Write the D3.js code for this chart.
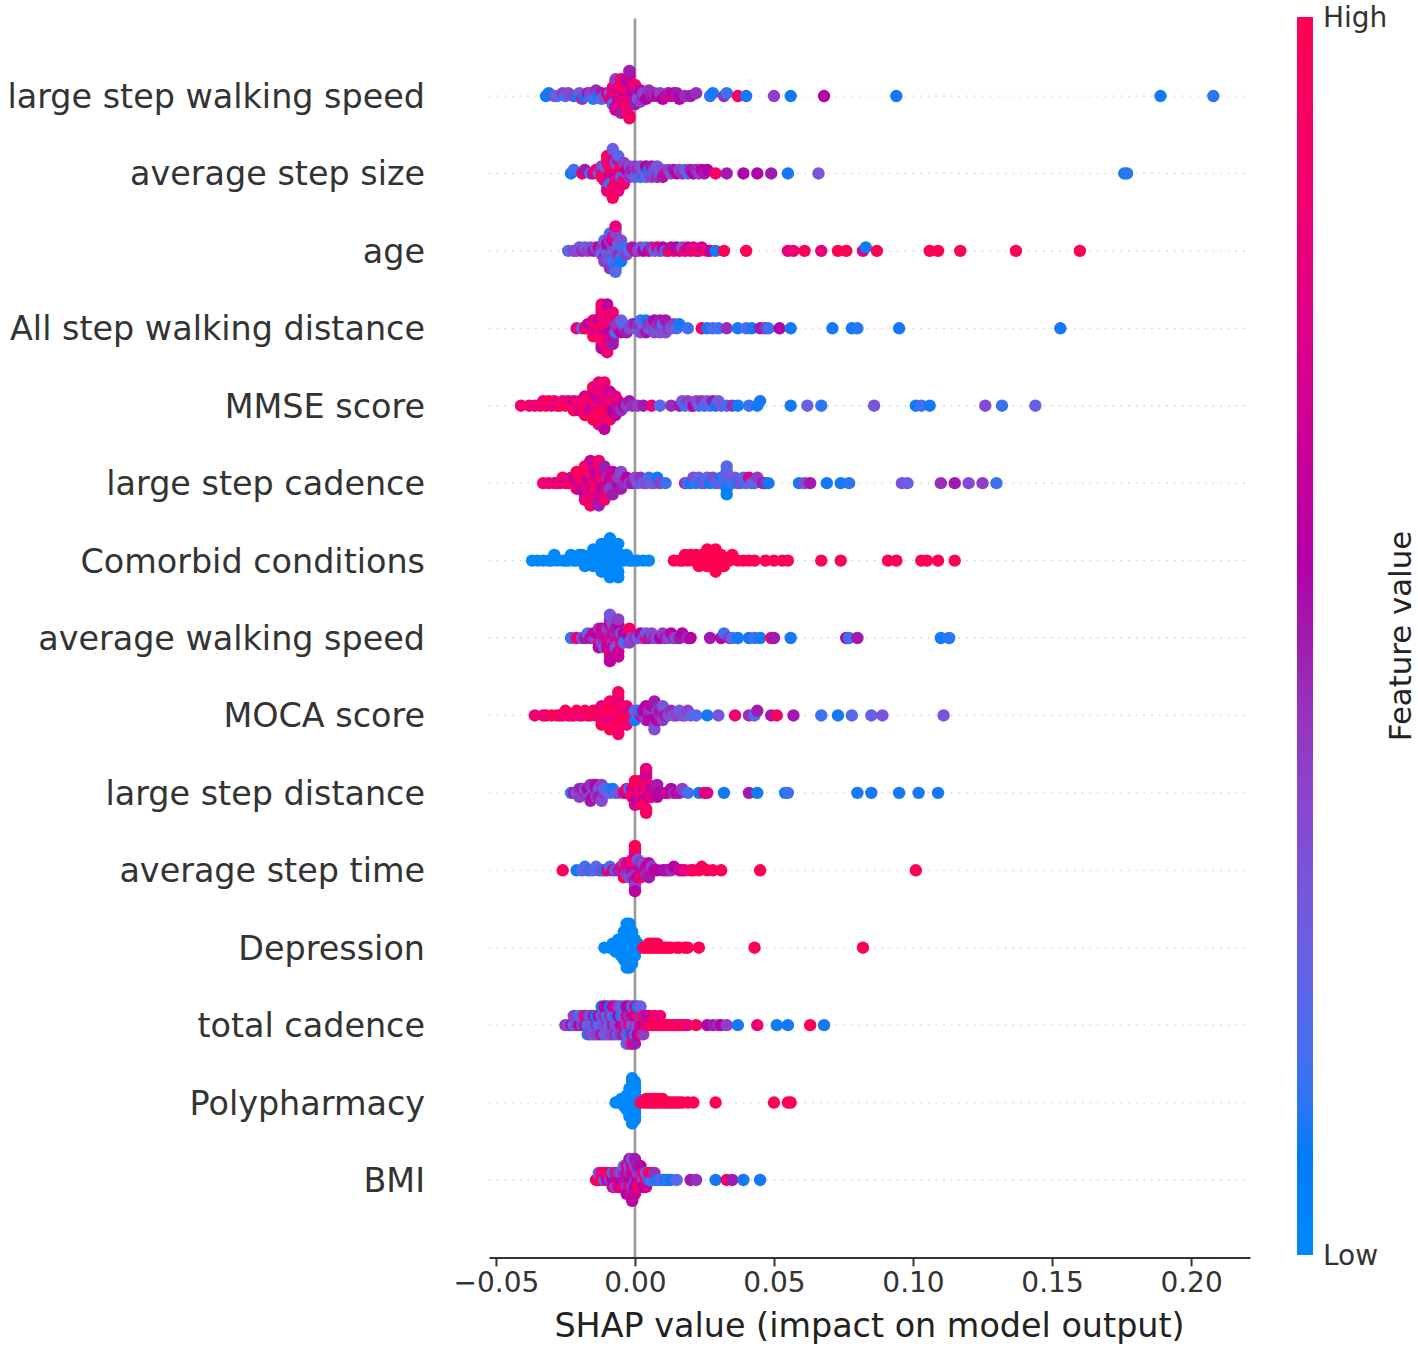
<!DOCTYPE html>
<html>
<head>
<meta charset="utf-8">
<script src="https://cdn.jsdelivr.net/npm/d3@7"></script>
<style>
  body { margin: 0; background: #fff; }
  svg { display: block; font-family: "DejaVu Sans", sans-serif; }
</style>
</head>
<body>
<svg id="chart" width="1418" height="1352"></svg>
<script>
// feature rows, top to bottom
var featureNames = ["large step walking speed", "average step size", "age", "All step walking distance",
  "MMSE score", "large step cadence", "Comorbid conditions", "average walking speed", "MOCA score",
  "large step distance", "average step time", "Depression", "total cadence", "Polypharmacy", "BMI"];

var xTicks = [-0.05, 0, 0.05, 0.10, 0.15, 0.20];
var xDomain = [-0.0525, 0.2212];

// each point: [SHAP value, feature value 0 (low) .. 1 (high)]
var largeStepWalkingSpeed = [
[-.032,.05],[-.031,.1],[-.029,.35],[-.028,.2],[-.026,.4],[-.025,.15],[-.024,.35],[-.022,.4],[-.021,.1],[-.020,.3],[-.019,.45],[-.018,.1],[-.017,.5],[-.016,.2],[-.016,.4],[-.015,.15],[-.014,.45],[-.013,.1],[-.012,.5],[-.012,.2],[-.011,.35],[-.010,.6],
[-.009,.7],[-.009,.3],[-.009,.8],[-.008,.9],[-.008,.5],[-.008,.75],[-.008,.2],[-.007,.85],[-.007,.6],[-.007,1],[-.007,.7],[-.007,.4],
[-.006,.9],[-.006,.8],[-.006,.55],[-.006,.95],[-.006,.7],[-.006,.65],[-.005,.8],[-.005,1],[-.005,.6],[-.005,.9],[-.005,.75],[-.005,.85],[-.005,.5],
[-.004,.95],[-.004,.7],[-.004,.8],[-.004,.6],[-.004,.9],[-.004,1],[-.004,.75],[-.003,.85],[-.003,.9],[-.003,.7],[-.003,1],[-.003,.55],[-.003,.8],
[-.002,.75],[-.002,.85],[-.002,.65],[-.002,.9],[-.002,.5],[-.001,.7],[-.001,.6],[-.001,.8],[-.001,.55],[0,.6],[0,.75],[0,.5],[0,.85],
[.001,.65],[.001,.5],[.001,.3],[.002,.6],[.002,.4],[.003,.5],[.003,.35],[.004,.55],[.005,.45],
[.006,.5],[.007,.45],[.008,.6],[.009,.4],[.010,.55],[.011,.7],[.012,.5],[.013,.65],[.014,.6],[.015,.75],[.015,.5],[.016,.55],[.018,.45],[.020,.5],[.022,.45],
[.027,.15],[.028,.1],[.032,.45],[.033,.15],[.037,.9],[.040,.1],[.050,.4],[.056,.1],[.068,.55],[.094,.1],[.189,.1],[.208,.12]
];

var averageStepSize = [
[-.023,.1],[-.022,.15],[-.019,.85],[-.018,.5],[-.016,.2],[-.015,.7],[-.014,.9],[-.013,.3],
[-.012,.8],[-.012,.95],[-.012,.4],[-.011,.9],[-.011,.75],[-.011,1],[-.011,.2],[-.011,.85],
[-.010,.95],[-.010,.7],[-.010,.9],[-.010,.3],[-.010,1],[-.010,.8],
[-.009,.85],[-.009,1],[-.009,.6],[-.009,.9],[-.009,.75],[-.009,.95],[-.009,.15],[-.009,.8],
[-.008,.9],[-.008,.7],[-.008,1],[-.008,.8],[-.008,.85],[-.008,.25],[-.008,.95],
[-.007,.8],[-.007,.9],[-.007,.6],[-.007,1],[-.007,.75],[-.007,.35],[-.006,.85],[-.006,.7],[-.006,.95],[-.006,.2],[-.006,.8],
[-.005,.9],[-.005,.65],[-.005,.3],[-.005,1],[-.004,.75],[-.004,.4],[-.004,.85],[-.003,.3],[-.003,.6],[-.002,.45],[-.002,.35],[-.001,.3],[-.001,.5],
[0,.3],[0,.4],[.001,.2],[.001,.45],[.002,.15],[.002,.35],[.003,.4],[.003,.25],[.004,.2],[.004,.55],[.005,.3],[.005,.1],[.006,.4],[.006,.5],
[.007,.15],[.007,.35],[.008,.45],[.008,.3],[.009,.2],[.010,.35],[.010,.5],[.011,.7],[.012,.4],[.013,.3],[.014,.5],[.015,.6],[.016,.35],[.017,.45],
[.018,.3],[.019,.2],[.020,.5],[.021,.55],[.022,.45],[.023,.4],[.024,.6],[.025,.5],[.026,.55],[.029,.9],[.033,.5],[.039,.55],[.044,.55],[.049,.5],
[.055,.1],[.066,.3],[.176,.1],[.177,.12]
];

var age = [
[-.024,.2],[-.022,.4],[-.021,.35],[-.020,.3],[-.019,.45],[-.018,.25],[-.017,.4],[-.016,.3],[-.015,.5],[-.014,.35],
[-.013,.4],[-.013,.6],[-.012,.3],[-.012,.45],[-.012,.2],[-.011,.35],[-.011,.5],[-.011,.25],[-.011,.4],
[-.010,.3],[-.010,.45],[-.010,.2],[-.010,.55],[-.010,.35],[-.009,.4],[-.009,.25],[-.009,.5],[-.009,.3],[-.009,.15],[-.009,.45],
[-.008,.1],[-.008,.35],[-.008,.2],[-.008,.4],[-.008,.3],[-.008,.6],[-.008,.15],[-.008,.75],
[-.007,.25],[-.007,.4],[-.007,.1],[-.007,.35],[-.007,.2],[-.007,.8],[-.006,.3],[-.006,.15],[-.006,.45],[-.006,.25],
[-.005,.2],[-.005,.35],[-.005,.1],[-.004,.3],[-.004,.15],[-.003,.4],[-.002,.2],[-.001,.5],
[0,.7],[.001,.4],[.002,.3],[.003,.55],[.004,.2],[.005,.65],[.006,.45],[.007,.25],[.008,.75],[.009,.35],[.010,.6],[.011,.15],[.012,.9],
[.013,.5],[.014,.8],[.015,.55],[.016,.7],[.017,.3],[.018,.85],[.019,.65],[.020,.8],[.021,.75],[.022,.9],[.023,.85],[.024,.7],[.026,.95],
[.027,.6],[.029,.1],[.032,1],[.040,1],[.055,.8],[.057,.85],[.061,1],[.067,.8],[.073,1],[.076,1],[.082,.75],[.083,.1],[.087,1],
[.106,1],[.109,1],[.117,1],[.137,1],[.160,1]
];

var allStepWalkingDistance = [
[-.021,.8],[-.019,.2],[-.018,.9],[-.017,.7],
[-.016,.85],[-.016,.6],[-.015,.9],[-.015,.7],[-.015,1],[-.014,.8],[-.014,.95],[-.014,.65],[-.014,.9],
[-.013,.75],[-.013,1],[-.013,.85],[-.013,.6],[-.013,.9],[-.012,.8],[-.012,.95],[-.012,.7],[-.012,1],[-.012,.85],[-.012,.6],[-.012,.9],
[-.011,.75],[-.011,1],[-.011,.8],[-.011,.9],[-.011,.65],[-.011,.85],[-.011,.95],[-.010,.8],[-.010,.7],[-.010,1],[-.010,.9],[-.010,.6],[-.010,.85],
[-.009,.75],[-.009,.95],[-.009,.55],[-.009,.8],[-.009,.7],[-.008,.9],[-.008,.65],[-.008,.85],[-.008,.5],
[-.007,.7],[-.007,.45],[-.007,.15],[-.006,.8],[-.006,.4],[-.005,.6],[-.005,.3],[-.004,.45],[-.004,.2],[-.003,.5],[-.002,.35],[-.001,.4],
[0,.3],[0,.5],[.001,.2],[.001,.45],[.002,.35],[.002,.15],[.003,.4],[.003,.25],[.004,.5],[.004,.1],[.005,.3],[.005,.45],[.006,.2],[.006,.4],
[.007,.35],[.007,.55],[.008,.25],[.008,.45],[.009,.3],[.009,.5],[.010,.4],[.010,.2],[.011,.35],[.011,.5],[.012,.45],[.013,.3],[.014,.4],[.015,.2],[.016,.1],
[.019,.15],[.024,.9],[.026,.1],[.028,.2],[.030,.15],[.033,.45],[.037,.1],[.040,.2],[.042,.1],[.045,.5],[.047,.45],[.048,.15],[.052,.55],
[.056,.1],[.071,.1],[.078,.1],[.080,.12],[.095,.1],[.153,.1]
];

var mmseScore = [
[-.041,.85],[-.038,.9],[-.036,.8],[-.034,.95],[-.033,.85],[-.032,.9],[-.031,1],[-.030,.8],[-.029,.9],[-.028,.75],[-.027,.95],[-.026,.85],[-.025,1],[-.024,.8],[-.023,.9],[-.022,.7],[-.022,.95],
[-.021,.85],[-.020,.9],[-.020,.75],[-.019,1],[-.019,.8],[-.018,.9],[-.018,.7],[-.018,.95],
[-.017,.85],[-.017,1],[-.017,.75],[-.016,.9],[-.016,.8],[-.016,.65],[-.016,.95],
[-.015,.85],[-.015,.7],[-.015,1],[-.015,.9],[-.014,.8],[-.014,.95],[-.014,.75],[-.014,.6],[-.014,.9],
[-.013,.85],[-.013,1],[-.013,.7],[-.013,.9],[-.013,.8],[-.012,.95],[-.012,.75],[-.012,.85],[-.012,.65],[-.012,1],[-.012,.9],
[-.011,.8],[-.011,.7],[-.011,.95],[-.011,.85],[-.011,.6],[-.010,.9],[-.010,.75],[-.010,1],[-.010,.8],
[-.009,.85],[-.009,.65],[-.009,.95],[-.008,.7],[-.008,.9],[-.008,.55],[-.007,.8],[-.007,.6],[-.006,.5],[-.006,.75],[-.005,.45],[-.004,.55],[-.003,.4],[-.002,.5],[-.001,.45],
[.001,.4],[.003,.5],[.006,.8],[.009,.2],[.013,.45],[.016,.5],[.017,.3],[.018,.15],[.019,.4],[.020,.25],[.021,.6],[.022,.35],[.023,.2],[.024,.45],
[.025,.15],[.026,.3],[.027,.2],[.028,.5],[.029,.1],[.030,.25],[.031,.3],[.033,.15],[.035,.45],[.037,.1],[.041,.15],[.044,.1],[.045,.1],
[.056,.1],[.062,.25],[.067,.12],[.086,.3],[.101,.1],[.103,.15],[.106,.1],[.126,.35],[.132,.15],[.144,.25]
];

var largeStepCadence = [
[-.033,.85],[-.031,.8],[-.029,1],[-.028,.75],[-.027,.9],[-.026,.85],[-.025,.7],[-.024,.95],
[-.023,.8],[-.022,.9],[-.022,.6],[-.021,.85],[-.021,1],[-.020,.75],[-.020,.9],[-.020,.65],
[-.019,.8],[-.019,.95],[-.019,.7],[-.018,.85],[-.018,.6],[-.018,1],[-.018,.75],
[-.017,.9],[-.017,.55],[-.017,.8],[-.017,.95],[-.016,.7],[-.016,.85],[-.016,1],[-.016,.65],[-.016,.9],
[-.015,.75],[-.015,.95],[-.015,.6],[-.015,.85],[-.015,.8],[-.014,.9],[-.014,.7],[-.014,1],[-.014,.55],[-.014,.8],
[-.013,.85],[-.013,.65],[-.013,.9],[-.013,.5],[-.012,.75],[-.012,.95],[-.012,.6],[-.012,.8],
[-.011,.7],[-.011,.5],[-.011,.85],[-.010,.65],[-.010,.45],[-.010,.8],[-.009,.55],[-.009,.7],[-.009,.4],
[-.008,.6],[-.008,.5],[-.007,.45],[-.007,.75],[-.006,.55],[-.006,.4],[-.005,.5],[-.005,.35],[-.004,.45],[-.003,.6],[-.002,.4],[-.001,.5],[0,.35],[.001,.3],[.002,.45],
[.003,.2],[.004,.35],[.005,.15],[.006,.3],[.007,.25],[.008,.1],[.009,.4],[.011,.15],
[.018,.45],[.019,.2],[.020,.1],[.021,.35],[.022,.15],[.023,.25],[.024,.1],[.025,.3],[.026,.2],[.027,.1],[.028,.35],[.029,.15],[.030,.25],[.031,.1],
[.032,.2],[.032,.15],[.033,.1],[.033,.3],[.033,.05],[.033,.2],[.034,.1],[.034,.25],[.035,.15],[.036,.3],[.037,.1],[.038,.35],[.039,.2],[.040,.15],
[.041,.75],[.042,.3],[.043,.2],[.044,.4],[.046,.5],[.047,.45],[.048,.1],
[.059,.1],[.061,.35],[.063,.5],[.069,.1],[.074,.1],[.077,.12],[.096,.3],[.098,.25],[.110,.45],[.115,.5],[.120,.35],[.125,.4],[.130,.15]
];

var comorbidConditions = [
[-.037,0],[-.035,0],[-.033,0],[-.031,0],[-.030,0],[-.029,0],[-.028,0],[-.026,0],[-.025,0],[-.024,0],[-.023,0],[-.022,0],[-.021,0],[-.020,0],
[-.019,0],[-.019,0],[-.018,0],[-.017,0],[-.016,0],[-.016,0],[-.015,0],[-.015,0],[-.014,0],[-.014,0],[-.013,0],[-.013,0],[-.013,0],
[-.012,0],[-.012,0],[-.012,0],[-.011,0],[-.011,0],[-.011,0],[-.010,0],[-.010,0],[-.010,0],[-.010,0],[-.009,0],[-.009,0],[-.009,0],[-.009,0],
[-.008,0],[-.008,0],[-.008,0],[-.008,0],[-.008,0],[-.007,0],[-.007,0],[-.007,0],[-.007,0],[-.006,0],[-.006,0],[-.006,0],[-.005,0],[-.005,0],
[-.004,0],[-.003,0],[-.002,0],[-.001,0],[.001,0],[.003,0],[.005,0],
[.014,1],[.016,1],[.017,1],[.018,1],[.019,1],[.020,1],[.021,1],[.022,1],[.022,1],[.023,1],[.024,1],[.024,1],[.025,1],[.025,1],[.026,1],[.026,1],
[.027,1],[.027,1],[.028,1],[.028,1],[.029,1],[.029,1],[.029,1],[.030,1],[.030,1],[.030,1],[.031,1],[.031,1],[.032,1],[.033,1],[.034,1],[.035,1],
[.037,1],[.039,1],[.041,1],[.043,1],[.047,1],[.050,1],[.053,1],[.055,1],[.067,1],[.074,1],[.091,1],[.094,1],[.103,1],[.105,1],[.109,1],[.115,1]
];

var averageWalkingSpeed = [
[-.023,.15],[-.021,.85],[-.019,.3],[-.018,.5],[-.017,.2],[-.016,.6],
[-.015,.45],[-.015,.7],[-.014,.3],[-.014,.55],[-.013,.8],[-.013,.4],[-.013,.6],[-.012,.5],[-.012,.75],[-.012,.35],[-.012,.65],
[-.011,.55],[-.011,.8],[-.011,.45],[-.011,.7],[-.011,.25],[-.010,.6],[-.010,.5],[-.010,.85],[-.010,.4],[-.010,.65],
[-.009,.55],[-.009,.75],[-.009,.45],[-.009,.9],[-.009,.3],[-.009,.6],[-.008,.5],[-.008,.7],[-.008,.4],[-.008,.85],[-.008,.55],[-.008,.35],[-.008,.65],
[-.007,.6],[-.007,.45],[-.007,.8],[-.007,.5],[-.007,.3],[-.006,.55],[-.006,.7],[-.006,.4],[-.006,.65],
[-.005,.5],[-.005,.35],[-.005,.75],[-.004,.45],[-.004,.6],[-.004,.2],[-.003,.15],[-.003,.55],[-.002,.4],[-.002,.9],[-.001,.35],
[0,.45],[.001,.3],[.002,.55],[.003,.4],[.004,.9],[.004,.25],[.005,.5],[.006,.35],[.007,.45],[.008,.3],[.009,.55],[.010,.4],[.011,.5],
[.012,.35],[.013,.6],[.014,.45],[.015,.3],[.016,.5],[.017,.55],[.019,.45],[.020,.55],
[.027,.5],[.031,.55],[.032,.15],[.034,.45],[.035,.2],[.037,.1],[.041,.1],[.043,.15],[.045,.1],[.049,.95],[.050,.5],[.056,.1],
[.076,.55],[.077,.15],[.080,.5],[.110,.1],[.113,.12]
];

var mocaScore = [
[-.036,.85],[-.033,.9],[-.032,.8],[-.030,.95],[-.028,1],[-.027,.85],[-.026,.9],[-.025,1],[-.024,.8],[-.023,.95],[-.022,.85],[-.021,1],[-.020,.9],[-.019,.8],[-.018,.95],[-.017,.85],[-.016,1],
[-.015,.9],[-.014,.8],[-.014,1],[-.013,.85],[-.013,.95],[-.012,.9],[-.012,.75],[-.012,1],[-.011,.85],[-.011,.95],[-.011,.8],
[-.010,.9],[-.010,1],[-.010,.85],[-.009,.95],[-.009,.8],[-.009,.9],[-.009,1],[-.008,.85],[-.008,.95],[-.008,.75],[-.008,1],[-.008,.9],
[-.007,.85],[-.007,1],[-.007,.8],[-.007,.95],[-.007,.9],[-.006,.85],[-.006,1],[-.006,.75],[-.006,.9],[-.006,.95],
[-.005,.8],[-.005,1],[-.005,.9],[-.005,.85],[-.004,.95],[-.004,.8],[-.004,1],[-.003,.9],[-.003,.85],[-.002,.95],[-.002,.7],[-.001,.9],
[0,.2],[0,.1],[.001,.15],[.001,.3],[.002,.5],[.002,.1],[.003,.45],[.003,.55],[.004,.4],[.004,.6],[.005,.5],[.005,.45],[.005,.65],
[.006,.5],[.006,.4],[.006,.55],[.006,.6],[.007,.45],[.007,.5],[.007,.35],[.008,.55],[.008,.4],[.008,.6],[.009,.45],[.009,.5],[.010,.4],[.010,.3],
[.011,.5],[.012,.35],[.013,.45],[.014,.3],[.015,.4],[.016,.25],[.017,.35],[.018,.3],[.019,.4],[.020,.25],[.022,.2],[.026,.1],[.030,.3],
[.036,.85],[.041,.45],[.043,.2],[.044,.5],[.049,.5],[.051,.95],[.057,.5],[.067,.15],[.073,.1],[.078,.2],[.085,.25],[.089,.3],[.111,.3]
];

var largeStepDistance = [
[-.023,.15],[-.022,.5],[-.021,.3],[-.020,.45],
[-.020,.4],[-.019,.35],[-.019,.5],[-.018,.45],[-.018,.3],[-.017,.4],[-.017,.55],[-.016,.35],[-.016,.45],[-.016,.5],[-.015,.4],[-.015,.3],[-.015,.6],[-.015,.45],
[-.014,.35],[-.014,.5],[-.014,.4],[-.014,.55],[-.013,.45],[-.013,.3],[-.013,.5],[-.012,.4],[-.012,.35],[-.011,.45],[-.011,.25],[-.010,.3],[-.010,.15],
[-.009,.2],[-.008,.1],[-.007,.15],[-.006,.3],
[-.004,.8],[-.003,.6],[-.003,.9],[-.002,.75],[-.002,.15],[-.001,.85],[-.001,.7],[-.001,.95],[0,.8],[0,.6],[0,1],[0,.75],
[.001,.9],[.001,.7],[.001,.85],[.001,1],[.001,.55],[.002,.8],[.002,.95],[.002,.65],[.002,.9],[.002,.75],[.002,1],
[.003,.85],[.003,.7],[.003,.95],[.003,.8],[.003,.6],[.003,.9],[.003,1],[.004,.75],[.004,.85],[.004,.65],[.004,.95],[.004,.8],
[.005,.7],[.005,.9],[.005,.6],[.005,.85],[.006,.75],[.006,.55],[.006,.8],[.007,.65],[.007,.7],[.008,.6],[.008,.5],[.009,.55],
[.010,.6],[.011,.5],[.012,.7],[.013,.55],[.014,.45],[.015,.65],[.016,.5],[.017,.4],[.019,.15],[.023,.1],[.025,.8],[.026,.75],[.032,.1],
[.041,.5],[.044,.1],[.054,.1],[.055,.15],[.080,.1],[.085,.1],[.095,.1],[.102,.1],[.109,.1]
];

var averageStepTime = [
[-.026,.95],[-.021,.1],[-.019,.2],[-.018,.15],[-.017,.3],[-.016,.1],[-.015,.25],[-.014,.2],[-.013,.15],[-.012,.35],[-.011,.1],[-.010,.8],[-.009,.2],[-.008,.7],[-.007,.15],[-.006,.5],
[-.005,.45],[-.005,.8],[-.004,.6],[-.004,.35],[-.004,.9],[-.003,.5],[-.003,.7],[-.003,.4],[-.003,.85],[-.002,.55],[-.002,.95],[-.002,.45],[-.002,.65],[-.002,.3],
[-.001,.6],[-.001,.8],[-.001,.5],[-.001,.7],[-.001,.4],[-.001,.9],[0,.55],[0,.75],[0,.45],[0,.65],[0,.35],[0,.85],[0,.6],[0,1],
[.001,.5],[.001,.7],[.001,.4],[.001,.8],[.001,.6],[.001,.3],[.002,.65],[.002,.55],[.002,.75],[.002,.45],[.002,.9],
[.003,.6],[.003,.5],[.003,.7],[.003,.35],[.004,.55],[.004,.65],[.004,.45],[.005,.6],[.005,.5],[.006,.7],[.006,.4],[.007,.55],[.008,.6],
[.010,.55],[.011,.5],[.012,.6],[.013,.45],[.014,.55],[.016,.75],[.017,.6],[.018,.8],[.020,.85],[.021,.9],[.023,1],[.024,.95],[.026,1],[.028,.95],[.031,1],
[.045,1],[.101,1]
];

var depression = [
[-.011,0],[-.009,0],[-.008,0],[-.008,0],[-.007,0],[-.007,0],[-.007,0],[-.006,0],[-.006,0],[-.006,0],[-.006,0],
[-.005,0],[-.005,0],[-.005,0],[-.005,0],[-.005,0],[-.004,0],[-.004,0],[-.004,0],[-.004,0],[-.004,0],[-.004,0],[-.004,0],[-.004,0],
[-.003,0],[-.003,0],[-.003,0],[-.003,0],[-.003,0],[-.003,0],[-.003,0],[-.003,0],[-.003,0],[-.003,0],[-.003,0],[-.003,0],
[-.002,0],[-.002,0],[-.002,0],[-.002,0],[-.002,0],[-.002,0],[-.002,0],[-.002,0],[-.002,0],[-.002,0],[-.002,0],[-.002,0],
[-.001,0],[-.001,0],[-.001,0],[-.001,0],[-.001,0],[-.001,0],[-.001,0],[-.001,0],[-.001,0],
[0,0],[0,0],[0,0],[0,0],[0,0],[.001,0],[.001,0],[.002,0],
[.003,1],[.004,1],[.005,1],[.005,1],[.006,1],[.006,1],[.007,1],[.007,1],[.008,1],[.008,1],[.009,1],[.010,1],[.011,1],[.012,1],[.013,1],
[.015,1],[.016,1],[.018,1],[.019,1],[.023,1],[.043,1],[.082,1]
];

var totalCadence = [
[-.025,.45],[-.024,.3],[-.023,.5],[-.022,.2],[-.022,.4],[-.021,.35],[-.020,.55],[-.020,.15],[-.019,.4],[-.019,.3],[-.018,.5],[-.018,.85],[-.017,.2],[-.017,.45],[-.017,.1],
[-.016,.35],[-.016,.25],[-.016,.4],[-.015,.15],[-.015,.5],[-.015,.3],[-.014,.45],[-.014,.1],[-.014,.35],[-.013,.2],[-.013,.55],[-.013,.4],
[-.012,.15],[-.012,.3],[-.012,.5],[-.012,.1],[-.011,.35],[-.011,.45],[-.011,.25],[-.011,.6],[-.010,.4],[-.010,.15],[-.010,.3],[-.010,.55],
[-.009,.2],[-.009,.45],[-.009,.35],[-.009,.1],[-.008,.5],[-.008,.25],[-.008,.4],[-.008,.65],[-.007,.3],[-.007,.15],[-.007,.45],[-.007,.7],
[-.006,.35],[-.006,.55],[-.006,.2],[-.006,.4],[-.005,.6],[-.005,.1],[-.005,.45],[-.005,.3],[-.004,.75],[-.004,.25],[-.004,.5],[-.004,.15],
[-.003,.4],[-.003,.65],[-.003,.3],[-.003,.55],[-.003,.2],[-.002,.8],[-.002,.45],[-.002,.1],[-.002,.6],[-.002,.35],
[-.001,.25],[-.001,.7],[-.001,.5],[-.001,.15],[-.001,.85],[0,.4],[0,.6],[0,.2],[0,.75],[0,.5],
[.001,.3],[.001,.9],[.001,.55],[.001,.1],[.002,.7],[.002,.45],[.002,.85],[.002,.25],[.003,.6],[.003,.95],[.003,.4],[.004,.8],[.004,.5],[.005,.9],[.005,.65],
[.006,.95],[.007,1],[.007,.9],[.008,.95],[.009,1],[.009,.85],[.010,.95],[.011,1],[.012,.9],[.013,.95],[.014,1],[.015,.85],[.016,.95],[.017,.9],[.018,1],[.019,.8],
[.022,.95],[.026,.55],[.028,.5],[.030,.45],[.031,.55],[.033,.4],[.037,.1],[.044,.85],[.051,.1],[.055,.1],[.063,1],[.068,.1]
];

var polypharmacy = [
[-.007,0],[-.006,0],[-.005,0],[-.005,0],[-.004,0],[-.004,0],[-.004,0],[-.003,0],[-.003,0],[-.003,0],[-.003,0],[-.003,0],
[-.002,0],[-.002,0],[-.002,0],[-.002,0],[-.002,0],[-.002,0],[-.002,0],[-.002,0],[-.002,0],
[-.001,0],[-.001,0],[-.001,0],[-.001,0],[-.001,0],[-.001,0],[-.001,0],[-.001,0],[-.001,0],[-.001,0],[-.001,0],[-.001,0],[-.001,0],[-.001,0],
[0,0],[0,0],[0,0],[0,0],[0,0],[0,0],[0,0],[0,0],[0,0],[0,0],[0,0],[0,0],[.001,0],[.001,0],
[.002,1],[.003,1],[.004,1],[.004,1],[.005,1],[.005,1],[.006,1],[.006,1],[.007,1],[.007,1],[.008,1],[.008,1],[.009,1],[.009,1],[.010,1],[.010,1],
[.011,1],[.012,1],[.013,1],[.014,1],[.015,1],[.016,1],[.017,1],[.019,1],[.021,1],[.029,1],[.050,1],[.055,1],[.056,1]
];

var bmi = [
[-.014,.85],[-.013,.95],[-.013,.3],[-.012,1],[-.012,.8],[-.011,.2],[-.011,.9],[-.010,.6],[-.010,.85],[-.009,.4],[-.009,.95],
[-.008,.55],[-.008,.15],[-.008,.75],[-.007,.5],[-.007,.9],[-.007,.35],[-.006,.65],[-.006,.45],[-.006,.8],[-.005,.55],[-.005,.3],[-.005,.7],
[-.004,.6],[-.004,.45],[-.004,.85],[-.004,.2],[-.003,.5],[-.003,.65],[-.003,.4],[-.003,.75],[-.003,.55],
[-.002,.6],[-.002,.45],[-.002,.8],[-.002,.35],[-.002,.7],[-.002,.5],[-.001,.55],[-.001,.65],[-.001,.4],[-.001,.75],[-.001,.5],[-.001,.3],[-.001,.6],
[0,.45],[0,.7],[0,.55],[0,.35],[0,.65],[0,.5],[.001,.6],[.001,.4],[.001,.8],[.001,.5],[.002,.7],[.002,.45],[.002,.9],[.002,.55],
[.003,.35],[.003,.85],[.003,.6],[.004,.95],[.004,.25],[.004,.7],[.005,.1],[.005,.9],[.006,.2],[.006,1],[.007,.15],[.007,.45],
[.008,.1],[.009,.15],[.010,.2],[.011,.1],[.012,.15],[.013,.1],[.015,.2],[.020,.5],[.022,.45],[.029,.1],[.033,.9],[.035,.5],[.039,.1],[.045,.1]
];

var rowsData = [largeStepWalkingSpeed, averageStepSize, age, allStepWalkingDistance, mmseScore,
  largeStepCadence, comorbidConditions, averageWalkingSpeed, mocaScore, largeStepDistance,
  averageStepTime, depression, totalCadence, polypharmacy, bmi];

// ---- layout ----
var plot = { left: 489, right: 1250, top: 18.6, bottom: 1257.4 };
var nRows = featureNames.length;

var x = d3.scaleLinear().domain(xDomain).range([plot.left, plot.right]);
// rows sit at integer positions, top feature highest, same as matplotlib
var y = d3.scaleLinear().domain([-1, nRows]).range([plot.bottom, plot.top]);

// shap's red_blue map, built in Lch space
function redBlue(t) {
	var L = t < 0.5 ? 54 + (40 - 54) * (t / 0.5) : 40 + (54 - 40) * ((t - 0.5) / 0.5);
	var C = 70 + 20 * t;
	var H = 266.93 + (380.32 - 266.93) * t;
	return d3.hcl(H, C, L).formatHex();
}

// beeswarm offsets like shap: 100 bins, layers alternate up/down
function swarm(pts) {
	var xs = pts.map(function(d) { return d[0]; });
	var lo = d3.min(xs), hi = d3.max(xs);
	var quant = xs.map(function(v) { return Math.round(100 * (v - lo) / (hi - lo + 1e-8)); });
	var inds = d3.range(xs.length).sort(function(a, b) { return (quant[a] - quant[b]) || (a - b); });
	var ys = xs.map(function() { return 0; });
	var layer = 0, last = -1;
	inds.forEach(function(i) {
		if (quant[i] !== last) layer = 0;
		ys[i] = Math.ceil(layer / 2) * ((layer % 2) * 2 - 1);
		layer++;
		last = quant[i];
	});
	var m = d3.max(ys) + 1;
	return ys.map(function(v) { return v * 0.9 * (0.4 / m); });
}

var svg = d3.select("#chart");

// dotted row guides
svg.append("g").selectAll("line")
	.data(featureNames)
	.enter().append("line")
	.attr("x1", plot.left).attr("x2", plot.right)
	.attr("y1", function(d, i) { return y(nRows - 1 - i); })
	.attr("y2", function(d, i) { return y(nRows - 1 - i); })
	.attr("stroke", "#cccccc").attr("stroke-width", 1.3)
	.attr("stroke-dasharray", "1.3,6.4");

// zero line
svg.append("line")
	.attr("x1", x(0)).attr("x2", x(0))
	.attr("y1", plot.top).attr("y2", plot.bottom)
	.attr("stroke", "#999999").attr("stroke-width", 2.6);

// points
var rowsG = svg.append("g").selectAll("g.row")
	.data(rowsData)
	.enter().append("g")
	.attr("class", "row");

rowsG.each(function(pts, i) {
	var offs = swarm(pts);
	var pos = nRows - 1 - i;
	d3.select(this).selectAll("circle")
		.data(pts)
		.enter().append("circle")
		.attr("cx", function(d) { return x(d[0]); })
		.attr("cy", function(d, j) { return y(pos + offs[j]); })
		.attr("r", 6.2)
		.attr("fill", function(d) { return redBlue(d[1]); });
});

// feature labels
svg.append("g").selectAll("text")
	.data(featureNames)
	.enter().append("text")
	.attr("x", 425)
	.attr("y", function(d, i) { return y(nRows - 1 - i) + 12; })
	.attr("text-anchor", "end")
	.attr("font-size", 33.4)
	.attr("fill", "#333333")
	.text(function(d) { return d; });

// x axis
var xAxis = d3.axisBottom(x)
	.tickValues(xTicks)
	.tickFormat(d3.format(".2f"))
	.tickSize(9)
	.tickSizeOuter(0)
	.tickPadding(6);

var axG = svg.append("g")
	.attr("transform", "translate(0," + plot.bottom + ")")
	.call(xAxis);
axG.select(".domain").attr("stroke", "#333333").attr("stroke-width", 2);
axG.selectAll(".tick line").attr("stroke", "#333333").attr("stroke-width", 2);
axG.selectAll(".tick text")
	.attr("font-size", 28)
	.attr("font-family", "DejaVu Sans")
	.attr("fill", "#333333");

svg.append("text")
	.attr("x", (plot.left + plot.right) / 2)
	.attr("y", 1337)
	.attr("text-anchor", "middle")
	.attr("font-size", 33.4)
	.attr("fill", "#222222")
	.text("SHAP value (impact on model output)");

// color bar
var cb = { x: 1297, w: 16, top: 17, bottom: 1255 };
var grad = svg.append("defs").append("linearGradient")
	.attr("id", "cbGrad")
	.attr("x1", 0).attr("y1", 1).attr("x2", 0).attr("y2", 0);
grad.selectAll("stop")
	.data(d3.range(0, 1.0001, 0.02))
	.enter().append("stop")
	.attr("offset", function(t) { return t; })
	.attr("stop-color", function(t) { return redBlue(t); });

svg.append("rect")
	.attr("x", cb.x).attr("y", cb.top)
	.attr("width", cb.w).attr("height", cb.bottom - cb.top)
	.attr("fill", "url(#cbGrad)");

svg.append("text")
	.attr("x", 1323).attr("y", cb.top + 10)
	.attr("font-size", 28).attr("fill", "#333333")
	.text("High");
svg.append("text")
	.attr("x", 1323).attr("y", cb.bottom + 10)
	.attr("font-size", 28).attr("fill", "#333333")
	.text("Low");

svg.append("text")
	.attr("transform", "translate(1411," + ((cb.top + cb.bottom) / 2) + ") rotate(-90)")
	.attr("text-anchor", "middle")
	.attr("font-size", 30.8)
	.attr("fill", "#222222")
	.text("Feature value");
</script>
</body>
</html>
